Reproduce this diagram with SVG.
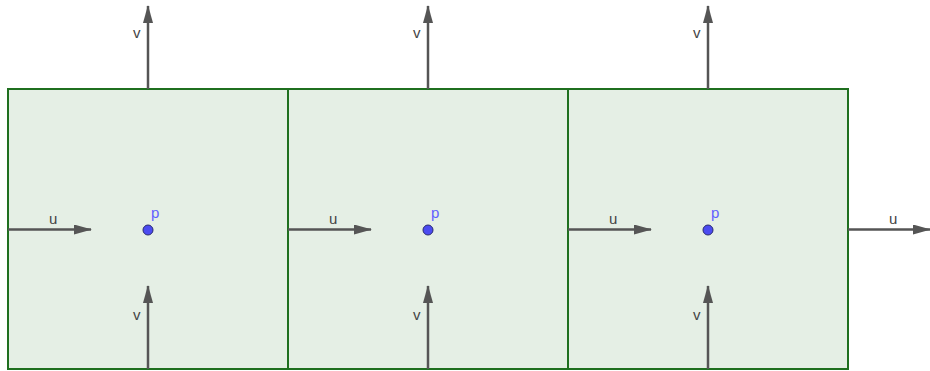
<svg xmlns="http://www.w3.org/2000/svg" width="930" height="371" viewBox="0 0 930 371">
<style>
.cell{fill:#e5efe5;stroke:#1f6f1f;stroke-width:2}
.arr{stroke:#555;stroke-width:2.5;fill:none;marker-end:url(#ah)}
.lbl{font-family:"Liberation Sans",Arial,sans-serif;font-size:15px;fill:#444}
.pl{font-family:"Liberation Sans",Arial,sans-serif;font-size:15px;fill:#6060ff}
.pt{fill:#4b4bf0;stroke:#2a2a70;stroke-width:1}
</style>
<defs>
<marker id="ah" markerWidth="20" markerHeight="12" refX="17" refY="5" orient="auto" markerUnits="userSpaceOnUse">
<path d="M0,0 L18,5 L0,10 Z" fill="#555"/>
</marker>
</defs>
<rect width="930" height="371" fill="#fff"/>
<g id="cell1"><rect class="cell" x="8" y="89" width="280" height="280"/><circle class="pt" cx="148" cy="230" r="5"/><text class="pl" x="151" y="218">p</text></g>
<g id="cell2"><rect class="cell" x="288" y="89" width="280" height="280"/><circle class="pt" cx="428" cy="230" r="5"/><text class="pl" x="431" y="218">p</text></g>
<g id="cell3"><rect class="cell" x="568" y="89" width="280" height="280"/><circle class="pt" cx="708" cy="230" r="5"/><text class="pl" x="711" y="218">p</text></g>
<g id="connectors">
<line class="arr" x1="148" y1="89" x2="148" y2="6"/>
<line class="arr" x1="428" y1="89" x2="428" y2="6"/>
<line class="arr" x1="708" y1="89" x2="708" y2="6"/>
<line class="arr" x1="148" y1="369" x2="148" y2="286"/>
<line class="arr" x1="428" y1="369" x2="428" y2="286"/>
<line class="arr" x1="708" y1="369" x2="708" y2="286"/>
<line class="arr" x1="8" y1="229.5" x2="91" y2="229.5"/>
<line class="arr" x1="288" y1="229.5" x2="371" y2="229.5"/>
<line class="arr" x1="568" y1="229.5" x2="651" y2="229.5"/>
<line class="arr" x1="848" y1="229.5" x2="930" y2="229.5"/>
</g>
<g id="labels">
<text class="lbl" x="133" y="38">v</text>
<text class="lbl" x="413" y="38">v</text>
<text class="lbl" x="693" y="38">v</text>
<text class="lbl" x="133" y="320">v</text>
<text class="lbl" x="413" y="320">v</text>
<text class="lbl" x="693" y="320">v</text>
<text class="lbl" x="49" y="224">u</text>
<text class="lbl" x="329" y="224">u</text>
<text class="lbl" x="609" y="224">u</text>
<text class="lbl" x="889" y="224">u</text>
</g>
</svg>
